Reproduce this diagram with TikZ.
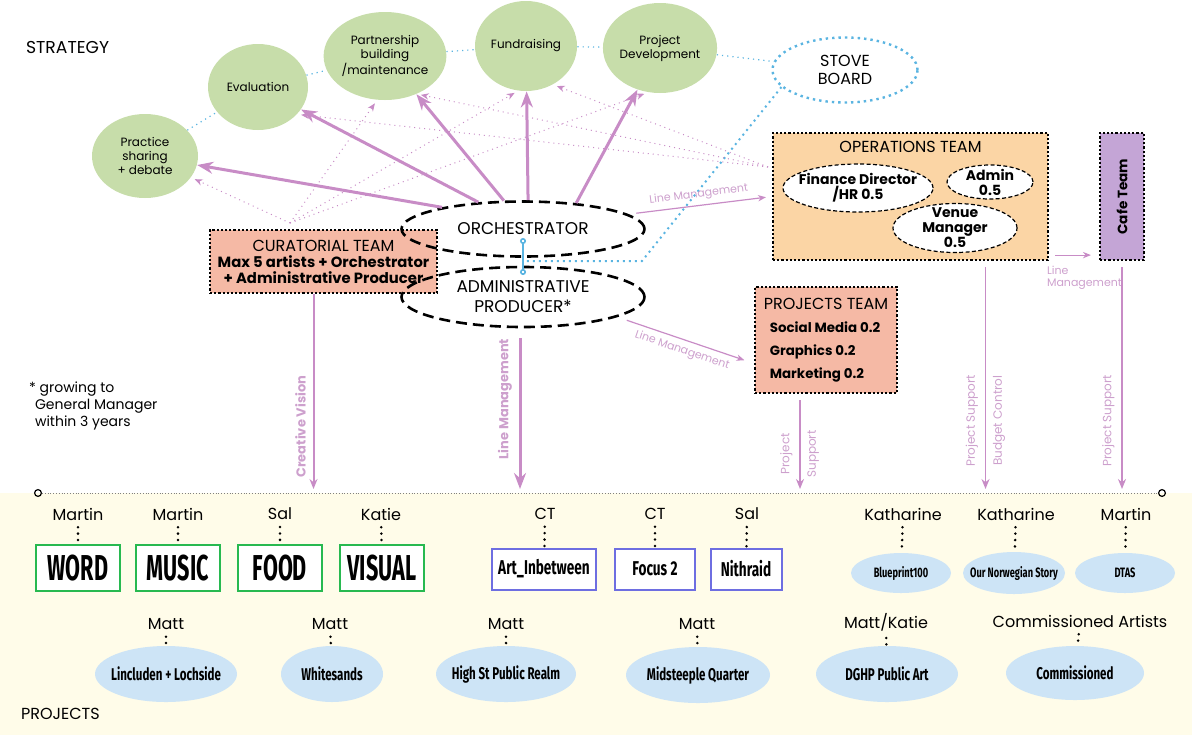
\documentclass[tikz,border=0pt]{standalone}
\usepackage{fontspec}
\setmainfont{Poppins}
\newfontfamily\condfont[FakeStretch=0.68]{Fira Sans}
\newfontfamily\narrowfont[FakeStretch=0.6]{Fira Sans}
\usetikzlibrary{arrows.meta,positioning,shapes.geometric,calc}

\definecolor{stratgreen}{RGB}{199,221,170}
\definecolor{salmon}{RGB}{245,185,165}
\definecolor{opsorange}{RGB}{251,213,165}
\definecolor{cafepurple}{RGB}{196,165,214}
\definecolor{arrowpurple}{RGB}{200,140,198}
\definecolor{labelpurple}{RGB}{205,160,205}
\definecolor{dotblue}{RGB}{90,180,225}
\definecolor{projblue}{RGB}{205,228,246}
\definecolor{strandgreen}{RGB}{40,185,80}
\definecolor{ventureblue}{RGB}{110,110,225}
\definecolor{cream}{RGB}{255,252,233}

\newcommand{\fs}[2]{\fontsize{#1}{#2}\selectfont}

\begin{document}
\begin{tikzpicture}[
  x=0.5pt, y=-0.5pt,
  font=\fs{7}{8},
  >={Stealth[length=4pt,width=3.2pt]},
  strat/.style={ellipse, fill=stratgreen, inner sep=0pt, align=center, font=\fs{6}{7}},
  dashell/.style={ellipse, draw, dash pattern=on 5.5pt off 3pt, line width=1.3pt, inner sep=0pt, align=center, font=\fs{8.5}{10}},
  team/.style={draw, densely dotted, line width=1.1pt, inner sep=0pt},
  role/.style={ellipse, draw, fill=white, dash pattern=on 2pt off 1.2pt, line width=0.6pt, inner xsep=-6pt, inner ysep=-2pt, align=center, font=\bfseries\fs{7}{7.5}},
  lead/.style={font=\fs{8}{9}},
  strand/.style={draw=strandgreen, line width=1pt, fill=white, minimum width=42pt, minimum height=23pt, font=\narrowfont\bfseries\fs{18}{18}},
  venture/.style={draw=ventureblue, line width=1pt, fill=white, minimum height=20.5pt, font=\condfont\bfseries\fs{10}{10}},
  proj/.style={ellipse, fill=projblue, inner xsep=-5pt, minimum width=71pt, minimum height=28pt, font=\condfont\bfseries\fs{8.5}{9}},
  smallproj/.style={proj, minimum width=50pt, minimum height=20pt, inner xsep=-6pt, font=\condfont\bfseries\fs{6.8}{7}},
  heavy/.style={-{Stealth[length=8pt,width=6pt]}, line width=1.5pt, draw=arrowpurple},
  faint/.style={->, dotted, line width=0.5pt, draw=arrowpurple, shorten >=2pt},
  mgmt/.style={->, line width=0.6pt, draw=arrowpurple},
  support/.style={-{Stealth[length=5pt,width=4pt]}, line width=0.8pt, draw=arrowpurple},
  lbl/.style={text=labelpurple, font=\fs{5.5}{6}},
  vlbl/.style={text=labelpurple, font=\fs{6}{7}, rotate=90},
  bluedot/.style={draw=dotblue, dotted, line width=1pt},
  arcdot/.style={draw=dotblue, dotted, line width=0.6pt},
  namedots/.style={dash pattern=on 0pt off 3.2pt, line cap=round, line width=1.4pt},
]
  \useasboundingbox (0,0) rectangle (1192,735);
  % projects strip
  \fill[cream] (0,493) rectangle (1192,735);
  \node[anchor=west, font=\fs{8.6}{9}] (strategy) at (19,47) {STRATEGY};
  \node[anchor=west, font=\fs{8}{9}] (projects) at (14,714) {PROJECTS};

  % ---------------- strategy ----------------
  \node[strat, minimum width=53pt, minimum height=42pt] (pract) at (145,156) {Practice\\sharing\\+ debate};
  \node[strat, minimum width=50pt, minimum height=43pt] (eval) at (258,87) {Evaluation};
  \node[strat, minimum width=56pt, minimum height=44pt] (partner) at (385,56) {Partnership\\building\\/maintenance};
  \node[strat, minimum width=51pt, minimum height=45pt] (fund) at (526,46) {Fundraising};
  \node[strat, minimum width=55pt, minimum height=45pt] (projdev) at (660,48) {Project\\Development};
  \node[ellipse, draw=dotblue, dotted, line width=1.2pt, minimum width=72.5pt, minimum height=32.5pt, align=center, font=\fs{8}{9}] (stove) at (845,70) {STOVE\\BOARD};
  \foreach \a/\b in {pract/eval, eval/partner, partner/fund, fund/projdev, projdev/stove}
    \draw[arcdot] (\a) -- (\b);

  % ---------------- core ----------------
  \node[team, fill=salmon, minimum width=113.5pt, minimum height=31.5pt, align=center, font=\bfseries\fs{7.4}{8}] (curat) at (323.5,261.5)
    {{\mdseries\fs{8}{9}CURATORIAL TEAM}\\Max 5 artists + Orchestrator\\+ Administrative Producer};
  \node[dashell, minimum width=121.5pt, minimum height=27.5pt] (orch) at (523,229) {ORCHESTRATOR};
  \node[dashell, minimum width=121.5pt, minimum height=30pt] (admin) at (523,297) {ADMINISTRATIVE\\PRODUCER*};
  \coordinate (bend) at (642,261);
  \coordinate (link) at (523,261);
  \draw[bluedot] (stove.195) -- (bend) -- (link);
  \draw[dotblue, line width=0.8pt, {Circle[open,length=3pt]}-{Circle[open,length=3pt]}]
    ([yshift=-4.5pt]orch.center) -- ([yshift=11pt]admin.center);

  % operations + cafe
  \node[team, fill=opsorange, minimum width=137.5pt, minimum height=63.5pt] (ops) at (910.5,196.5) {};
  \node[font=\fs{8}{9}, below=1pt of ops.north] (opstitle) {OPERATIONS TEAM};
  \node[role, minimum width=75pt, minimum height=24pt] (fin) at (858,188) {Finance Director\\/HR 0.5};
  \node[role, minimum width=43pt, minimum height=17pt] (adm) at (990,182) {Admin\\0.5};
  \node[role, minimum width=62pt, minimum height=24.5pt, inner ysep=-4pt] (venue) at (955,228) {Venue\\Manager\\0.5};
  \node[team, fill=cafepurple, minimum width=22pt, minimum height=63.5pt] (cafe) at (1122,196.5) {};
  \node[rotate=90, font=\bfseries\fs{6.8}{7}] (cafetext) at (cafe) {Cafe Team};
  \draw[mgmt, shorten <=3pt, shorten >=4pt] ([yshift=3pt]ops.south east) -- ([yshift=3pt]cafe.south west);
  \node[lbl, anchor=north west, align=left] (cafemgmt) at (1040,259) {Line\\Management};

  % projects team
  \node[team, fill=salmon, minimum width=71pt, minimum height=53pt, align=left, font=\bfseries\fs{6.7}{11.5}] (projt) at (826,340)
    {{\mdseries\fs{8}{11.5}PROJECTS TEAM}\\\hspace*{3pt}Social Media 0.2\\\hspace*{3pt}Graphics 0.2\\\hspace*{3pt}Marketing 0.2};

  % arrows into strategy
  \draw[heavy] (orch.165) -- (pract);
  \draw[heavy] (orch.149) -- (eval);
  \draw[heavy] (orch.124) -- (partner);
  \draw[heavy] (orch.80) -- (fund);
  \draw[heavy] (orch.26) -- (projdev);
  \coordinate (curfan) at (290,223);
  \coordinate (opsfan) at (768,167);
  \foreach \t in {pract.-25, partner.-100, fund.-100, projdev.-105}
    \draw[faint] (curfan) -- (\t);
  \foreach \t in {eval.-35, partner.-50, fund.-55}
    \draw[faint] (opsfan) -- (\t);

  % line management
  \draw[mgmt, shorten <=4pt, shorten >=3pt] (orch.8) -- node[lbl, sloped, above=-1pt] {Line Management} (ops.west);
  \draw[mgmt, shorten <=5pt, shorten >=5pt] (admin.-12) -- node[lbl, sloped, below=-1pt] {Line Management} (projt.198);

  % down to the projects
  \coordinate (base) at (0,489);
  \draw[support, line width=1pt] ([xshift=-5pt]curat.south) -- node[vlbl, pos=.68, anchor=south, font=\bfseries\fs{6.5}{7}] {Creative Vision} ([xshift=-5pt]curat.south |- base);
  \draw[heavy, shorten <=5pt] ([xshift=-1.5pt]admin.south) -- node[vlbl, pos=.44, anchor=south, font=\bfseries\fs{6.5}{7}] {Line Management} ([xshift=-1.5pt]admin.south |- base);
  \draw[support, shorten <=3pt] ([xshift=-13pt]projt.south) -- node[vlbl, pos=.63, anchor=south] {Project} node[vlbl, pos=.63, anchor=north] {Support} ([xshift=-13pt]projt.south |- base);
  \draw[support, shorten <=3pt] ([xshift=37.5pt]ops.south) -- node[vlbl, pos=.7, anchor=south] {Project Support} node[vlbl, pos=.7, anchor=north] {Budget Control} ([xshift=37.5pt]ops.south |- base);
  \draw[support, shorten <=3pt] (cafe.south) -- node[vlbl, pos=.7, anchor=south] {Project Support} (cafe.south |- base);

  \node[anchor=north west, align=left, font=\fs{7}{8.5}] (note) at (22,375) {* growing to\\\hspace*{3pt}General Manager\\\hspace*{3pt}within 3 years};

  % ---------------- projects ----------------
  \node[circle, draw, line width=0.6pt, inner sep=1.2pt] (lend) at (38,493) {};
  \node[circle, draw, line width=0.6pt, inner sep=1.2pt] (rend) at (1162,493) {};
  \draw[gray, densely dotted, line width=0.4pt] (lend) -- (rend);

  \node[strand] (word) at (78,568) {WORD};
  \node[strand] (music) at (178,568) {MUSIC};
  \node[strand] (food) at (280,568) {FOOD};
  \node[strand] (visual) at (382,568) {VISUAL};
  \node[venture, minimum width=52pt] (artin) at (544,569) {Art\_Inbetween};
  \node[venture, minimum width=40pt] (focus) at (655,569) {Focus 2};
  \node[venture, minimum width=35.5pt] (nith) at (746,569) {Nithraid};
  \node[smallproj] (blue100) at (901,573) {Blueprint100};
  \node[smallproj, minimum width=51pt, minimum height=21pt] (norweg) at (1014,573) {Our Norwegian Story};
  \node[smallproj] (dtas) at (1125,573) {DTAS};

  \node[lead] (word-lead) at (78,514) {Martin};
  \node[lead] (music-lead) at (178,514) {Martin};
  \node[lead] (food-lead) at (280,514) {Sal};
  \node[lead] (visual-lead) at (381,514) {Katie};
  \node[lead] (artin-lead) at (545,514) {CT};
  \node[lead] (focus-lead) at (655,514) {CT};
  \node[lead] (nith-lead) at (747,514) {Sal};
  \node[lead] (blue100-lead) at (903,514) {Katharine};
  \node[lead] (norweg-lead) at (1016,514) {Katharine};
  \node[lead] (dtas-lead) at (1126,514) {Martin};

  \node[proj] (linc) at (166,674) {Lincluden + Lochside};
  \node[proj, minimum width=51pt] (white) at (332,674) {Whitesands};
  \node[proj, minimum width=70pt] (highst) at (506,674) {High St Public Realm};
  \node[proj, minimum width=72pt] (midst) at (698,675) {Midsteeple Quarter};
  \node[proj] (dghp) at (887,674) {DGHP Public Art};
  \node[proj, minimum width=69pt, minimum height=27pt] (comm) at (1075,673) {Commissioned};

  \node[lead] (linc-lead) at (166,624) {Matt};
  \node[lead] (white-lead) at (330,624) {Matt};
  \node[lead] (highst-lead) at (506,624) {Matt};
  \node[lead] (midst-lead) at (697,624) {Matt};
  \node[lead] (dghp-lead) at (886,622) {Matt/Katie};
  \node[lead] (comm-lead) at (1080,621) {Commissioned Artists};

  \foreach \p in {word, music, food, visual, artin, focus, nith, blue100, norweg, dtas, linc, white, highst, midst, dghp, comm}
    \draw[namedots] (\p-lead) -- (\p);
\end{tikzpicture}
\end{document}
